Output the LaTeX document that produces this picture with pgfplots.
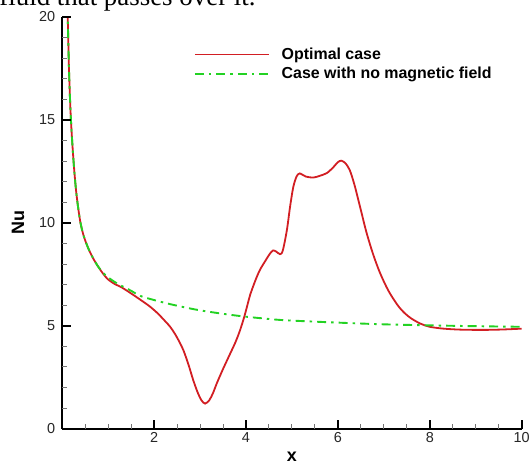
\documentclass[border=0pt]{standalone}
\usepackage{fontspec}
\setmainfont{Liberation Sans}
\newfontfamily\seriffont{Liberation Serif}
\usepackage{pgfplots}
\pgfplotsset{compat=1.18}
\definecolor{redc}{RGB}{210,30,35}
\definecolor{greenc}{RGB}{35,210,35}
\begin{document}
\begin{tikzpicture}
\begin{axis}[
  at={(0,0)}, anchor=south west,
  scale only axis, width=459.5bp, height=411.7bp,
  xmin=0, xmax=10, ymin=0, ymax=20,
  axis x line*=bottom, axis y line*=left,
  axis line style={line width=1.6bp, -},
  tick align=inside,
  xtick={0,2,...,10}, xticklabels={,2,4,6,8,10},
  ytick={0,5,...,20},
  minor x tick num=3, minor y tick num=4,
  major tick length=9bp, minor tick length=5bp,
  major tick style={black, line width=2bp},
  minor tick style={black!55, line width=1bp},
  tick label style={font=\fontsize{14.5}{16}\selectfont, text=black!85},
  yticklabel style={xshift=-3.5bp},
  /pgf/number format/assume math mode=true,
  xlabel={x}, ylabel={Nu},
  label style={font=\fontsize{18}{20}\selectfont\bfseries},
  xlabel style={at={(axis description cs:0.5,-0.068)}, anchor=center},
  ylabel style={at={(axis description cs:-0.096,0.5)}, anchor=center},
  legend style={at={(axis cs:2.86,18.6)}, anchor=north west, draw=none, fill=none,
    font=\fontsize{16}{18}\selectfont\bfseries, row sep=2bp, inner sep=0pt,
    /tikz/every odd column/.append style={column sep=10bp}},
  legend cell align=left,
  legend image code/.code={\draw[#1] (0bp,0bp) -- (74bp,0bp);},
]
\addplot[redc, line width=1.8bp, smooth] coordinates {
(0.10,21.5) (0.12,20.0) (0.15,17.3) (0.19,15.0) (0.25,12.9) (0.31,11.4)
(0.39,10.1) (0.47,9.35) (0.57,8.75) (0.68,8.25) (0.79,7.85) (0.90,7.5)
(1.00,7.25) (1.15,7.02) (1.29,6.87) (1.50,6.57) (1.73,6.22) (1.90,5.95)
(2.08,5.6) (2.25,5.2) (2.35,4.95) (2.45,4.62) (2.55,4.22) (2.64,3.8)
(2.75,3.1) (2.85,2.37) (2.95,1.75) (3.03,1.38) (3.11,1.22) (3.20,1.38)
(3.28,1.72) (3.36,2.18) (3.50,2.9) (3.65,3.62) (3.77,4.2) (3.87,4.78)
(3.96,5.42) (4.03,6.0) (4.09,6.5) (4.20,7.18) (4.30,7.7) (4.42,8.15)
(4.52,8.5) (4.59,8.66) (4.66,8.6) (4.74,8.48) (4.80,8.65) (4.89,9.65)
(4.96,10.8) (5.03,11.75) (5.10,12.25) (5.17,12.4) (5.30,12.25) (5.46,12.2)
(5.60,12.28) (5.76,12.42) (5.90,12.7) (6.00,12.95) (6.08,13.02) (6.17,12.88)
(6.26,12.55) (6.36,11.85) (6.48,10.8) (6.62,9.55) (6.77,8.45) (6.92,7.55)
(7.10,6.7) (7.30,6.0) (7.45,5.62) (7.60,5.35) (7.80,5.1) (8.00,4.95)
(8.30,4.86) (8.70,4.81) (9.20,4.80) (9.60,4.82) (10.0,4.86)
};
\addlegendentry{Optimal case}
\addplot[greenc, line width=1.9bp, smooth, dash pattern=on 9bp off 5bp on 2.5bp off 5bp] coordinates {
(0.10,21.5) (0.12,20.0) (0.15,17.3) (0.19,15.0) (0.25,12.9) (0.31,11.4)
(0.39,10.1) (0.47,9.35) (0.57,8.75) (0.68,8.25) (0.79,7.85) (0.90,7.55)
(1.00,7.35) (1.20,7.05) (1.50,6.7) (1.70,6.45) (2.00,6.25) (2.35,6.05)
(2.70,5.88) (3.00,5.75) (3.50,5.58) (3.96,5.45) (4.50,5.33) (4.84,5.27)
(5.50,5.2) (6.26,5.13) (7.00,5.07) (8.00,5.02) (9.00,4.98) (10.0,4.95)
};
\addlegendentry{Case with no magnetic field}
\end{axis}
% axis frame ticks drawn as filled bars (axis: 45.95bp per x unit, 20.585bp per y unit)
\foreach \tk in {2,4,6,8,10}{\fill[black] (\tk*45.95bp-1bp,0) rectangle (\tk*45.95bp+1bp,9bp);}
\foreach \tk in {0.5,1,1.5,2.5,3,3.5,4.5,5,5.5,6.5,7,7.5,8.5,9,9.5}{\fill[black!55] (\tk*45.95bp-0.5bp,0) rectangle (\tk*45.95bp+0.5bp,5bp);}
\foreach \tk in {5,10,15,20}{\fill[black] (0,\tk*20.585bp-1bp) rectangle (9bp,\tk*20.585bp+1bp);}
\foreach \tk in {1,2,3,4,6,7,8,9,11,12,13,14,16,17,18,19}{\fill[black!55] (0,\tk*20.585bp-0.5bp) rectangle (5bp,\tk*20.585bp+0.5bp);}
\node[anchor=base west, inner sep=0pt, font=\seriffont\fontsize{27}{30}\selectfont] at (-63bp,422.7bp) {fluid that passes over it.};
\pgfresetboundingbox
\useasboundingbox (-62.2bp,-35.3bp) rectangle (468.8bp,428.7bp);
\end{tikzpicture}
\end{document}
